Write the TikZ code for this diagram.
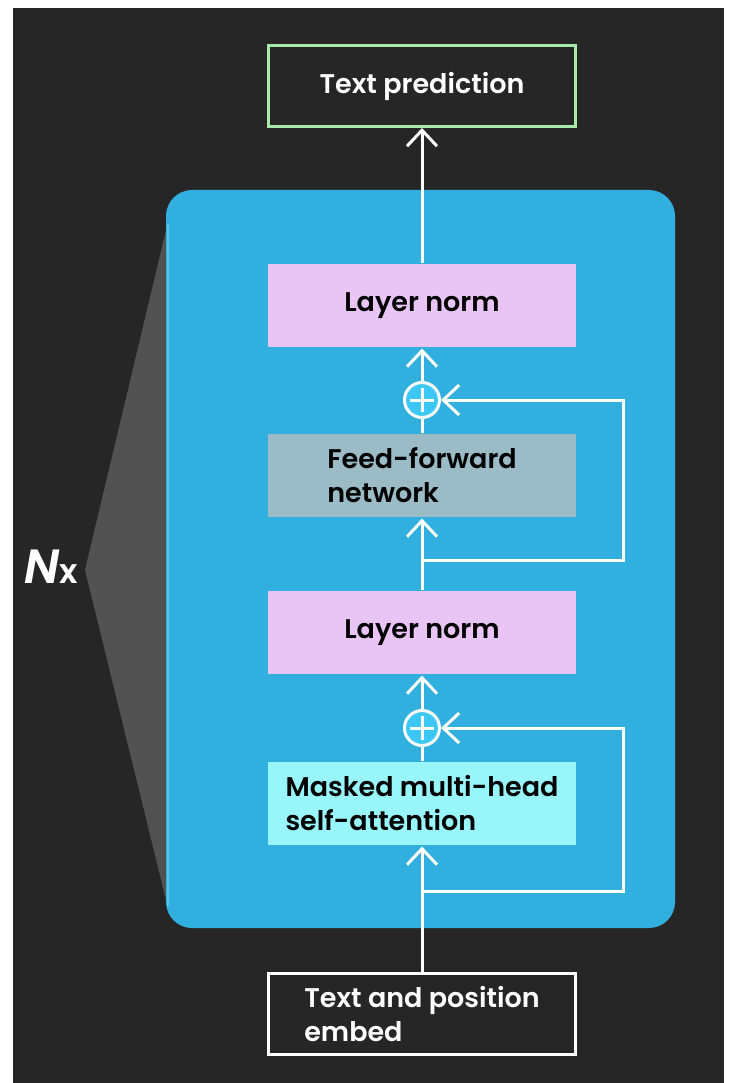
\documentclass[tikz,border=0pt]{standalone}
\usepackage{fontspec}
\IfFontExistsTF{Poppins SemiBold}
    {\setmainfont{Poppins}[BoldFont={Poppins SemiBold}, BoldItalicFont={Poppins SemiBold Italic}]}
    {\setmainfont{Poppins}}
\usetikzlibrary{arrows.meta}

\definecolor{bgdark}{HTML}{262626}
\definecolor{wedgegray}{HTML}{525252}
\definecolor{stackblue}{HTML}{31AFDE}
\definecolor{edgeblue}{HTML}{5CC4EA}
\definecolor{normpink}{HTML}{E8C5F5}
\definecolor{ffgray}{HTML}{9BBBC7}
\definecolor{attncyan}{HTML}{98F6FB}
\definecolor{addblue}{HTML}{3CC8F5}
\definecolor{predgreen}{HTML}{A8E8A8}

\begin{document}
\begin{tikzpicture}[x=1pt, y=-1pt, line width=3pt,
    >={Straight Barb[length=16pt, width=30pt]}]
    \tikzset{block/.style={minimum width=308pt, minimum height=83pt, inner sep=0pt,
        align=left, text=black, font=\bfseries\fontsize{27}{34}\selectfont}};
    \tikzset{iobox/.style={block, draw, text=white}};
    \tikzset{addop/.style={circle, draw=white, fill=addblue, minimum size=35pt, inner sep=0pt,
        path picture={
            \draw[white, line width=3pt] ([xshift=-12pt]path picture bounding box.center)
                -- ([xshift=12pt]path picture bounding box.center);
            \draw[white, line width=3pt] ([yshift=-12pt]path picture bounding box.center)
                -- ([yshift=12pt]path picture bounding box.center);
        }}};
    % Background
    \fill[white] (0, 0) rectangle (730, 1083);
    \fill[bgdark] (13, 8) rectangle (724, 1083);
    \fill[wedgegray] (85, 570) -- (167, 226) -- (200, 226) -- (200, 904) -- (167, 904) -- cycle;
    \fill[stackblue, rounded corners=26pt] (166, 190) rectangle (675, 928);
    \draw[edgeblue, line width=2pt] (167.5, 224) -- (167.5, 906);
    \node[text=white, font=\bfseries] (nx) at (51, 567)
        {\fontsize{48}{48}\selectfont\itshape N\upshape\fontsize{34}{34}\selectfont x};
    % Blocks
    \node[iobox, draw=predgreen, minimum height=81pt, minimum width=307pt] (pred) at (422, 86) {Text prediction};
    \node[block, fill=normpink] (norm2) at (422, 305.5) {Layer norm};
    \node[addop] (add2) at (422, 400) {};
    \node[block, fill=ffgray] (ffn) at (422, 475.5) {Feed-forward\\network};
    \node[block, fill=normpink] (norm1) at (422, 632.5) {Layer norm};
    \node[addop] (add1) at (422, 728) {};
    \node[block, fill=attncyan] (attn) at (422, 803.5) {Masked multi-head\\self-attention};
    \node[iobox, draw=white, minimum height=81pt, minimum width=307pt] (embed) at (422, 1014) {Text and position\\embed};
    % Connectors
    \coordinate (skip1) at (422, 891);
    \coordinate (skip2) at (422, 560);
    \draw[->, white] (embed) -- (attn);
    \draw[white] (attn) -- (add1);
    \draw[->, white] (add1) -- (norm1);
    \draw[->, white] (norm1) -- (ffn);
    \draw[white] (ffn) -- (add2);
    \draw[->, white] (add2) -- (norm2);
    \draw[->, white] (norm2) -- (pred);
    \draw[->, white] (skip1) -- ++(201, 0) |- (add1);
    \draw[->, white] (skip2) -- ++(201, 0) |- (add2);
\end{tikzpicture}
\end{document}
